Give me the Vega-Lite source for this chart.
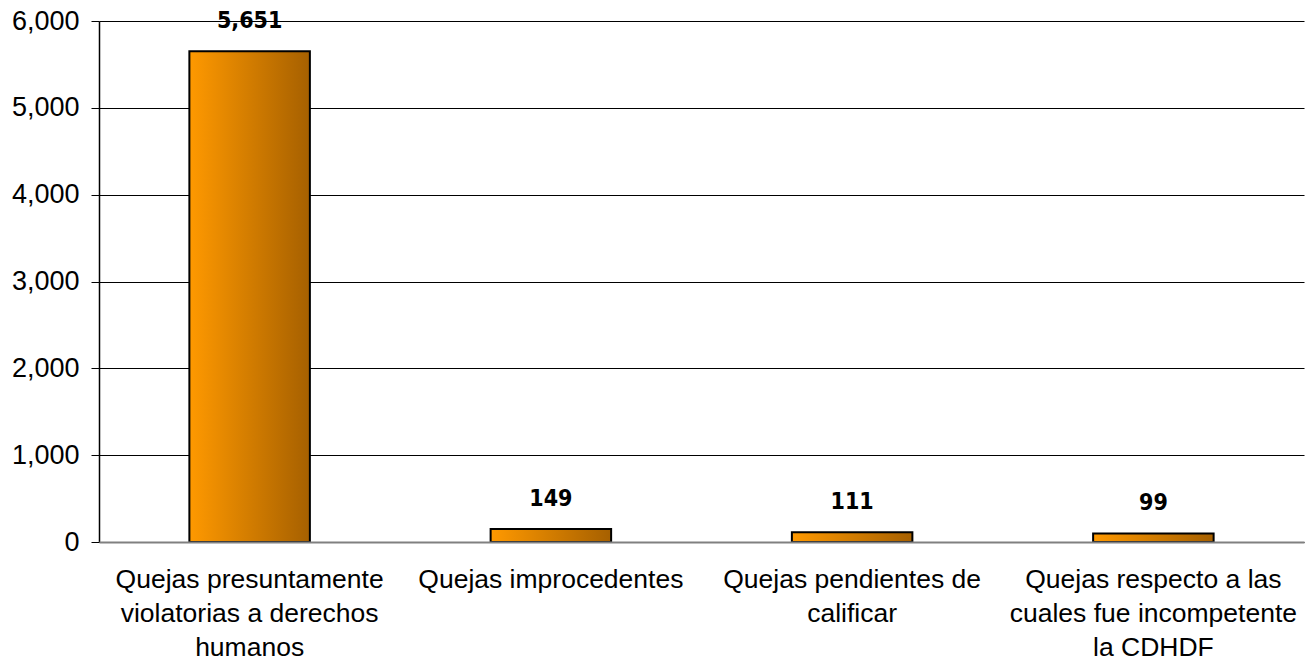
{
  "$schema": "https://vega.github.io/schema/vega-lite/v6.json",
  "width": 1205,
  "height": 521,
  "autosize": "none",
  "padding": {"left": 99, "top": 21, "right": 1, "bottom": 119},
  "background": "white",
  "config": {"view": {"stroke": null}},
  "data": {
    "values": [
      {"cat": "Quejas presuntamente|violatorias a derechos|humanos", "value": 5651},
      {"cat": "Quejas improcedentes", "value": 149},
      {"cat": "Quejas pendientes de|calificar", "value": 111},
      {"cat": "Quejas respecto a las|cuales fue incompetente|la CDHDF", "value": 99}
    ]
  },
  "encoding": {
    "x": {
      "field": "cat", "type": "nominal", "sort": null,
      "scale": {"paddingInner": 0.6, "paddingOuter": 0.3},
      "axis": {
        "title": null, "labelAngle": 0, "ticks": false,
        "labelExpr": "split(datum.label, '|')",
        "labelFont": "Liberation Sans", "labelFontSize": 26.5, "labelColor": "#000",
        "labelLineHeight": 34, "labelPadding": 37, "labelBaseline": "middle",
        "labelLimit": 400,
        "domainColor": "#808080", "domainWidth": 2, "zindex": 1
      }
    },
    "y": {
      "field": "value", "type": "quantitative",
      "scale": {"domain": [0, 6000], "nice": false},
      "axis": {
        "title": null, "values": [0, 1000, 2000, 3000, 4000, 5000, 6000], "format": ",.0f",
        "labelFont": "Liberation Sans", "labelFontSize": 27, "labelColor": "#000",
        "labelPadding": 12, "tickSize": 8, "tickColor": "#000", "tickWidth": 1,
        "domainColor": "#000", "domainWidth": 1.5,
        "grid": true, "gridColor": "#000", "gridWidth": 1
      }
    }
  },
  "layer": [
    {
      "mark": {
        "type": "bar",
        "stroke": "#000", "strokeWidth": 2,
        "color": {
          "gradient": "linear", "x1": 0, "y1": 0, "x2": 1, "y2": 0,
          "stops": [
            {"offset": 0, "color": "#FF9900"},
            {"offset": 1, "color": "#A66000"}
          ]
        }
      }
    },
    {
      "mark": {
        "type": "text", "baseline": "bottom", "dy": -18,
        "font": "Liberation Sans Narrow, DejaVu Sans Condensed, Liberation Sans, sans-serif", "fontWeight": "bold", "fontSize": 23, "color": "#000"
      },
      "encoding": {"text": {"field": "value", "type": "quantitative", "format": ","}}
    }
  ]
}
